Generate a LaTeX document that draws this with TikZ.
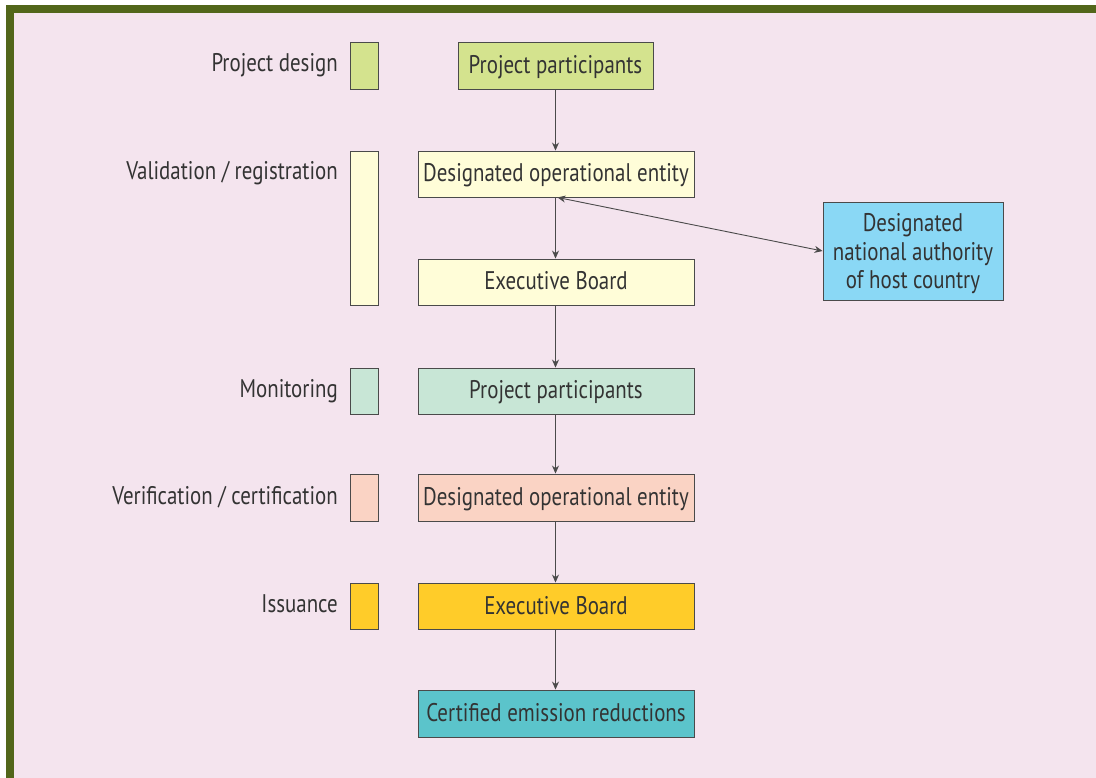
\documentclass[tikz,border=0pt]{standalone}
\usepackage{fontspec}
\setmainfont{PT Sans}[FakeStretch=0.82]
\usetikzlibrary{arrows.meta}
\definecolor{bgpink}{HTML}{F4E4EE}
\definecolor{bandgreen}{HTML}{52661A}
\definecolor{txt}{HTML}{333333}
\definecolor{edge}{HTML}{4A4A4A}
\definecolor{cdesign}{HTML}{D4E38E}
\definecolor{cvalid}{HTML}{FFFDD8}
\definecolor{cmonit}{HTML}{C8E6D6}
\definecolor{cverif}{HTML}{FAD3C4}
\definecolor{cissue}{HTML}{FFCC29}
\definecolor{ccer}{HTML}{5BC4CB}
\definecolor{cdna}{HTML}{8AD8F5}
\tikzset{
  box/.style={draw=edge, line width=0.9pt, text=txt, font=\fontsize{25.5}{28.5}\selectfont, inner sep=0pt, minimum height=46, align=center, text height=18.5pt, text depth=2.5pt},
  bar/.style={draw=edge, line width=0.9pt, minimum width=28, inner sep=0pt},
  lbl/.style={anchor=east, text=txt, font=\fontsize{25.5}{28.5}\selectfont, inner sep=0pt, text height=18.5pt, text depth=2.5pt},
  arr/.style={draw=edge, line width=0.9pt, -{Stealth[length=8pt,width=7pt]}},
  darr/.style={draw=edge, line width=0.9pt, {Stealth[length=8pt,width=7pt]}-{Stealth[length=8pt,width=7pt]}}
}
\begin{document}
\begin{tikzpicture}[x=1pt,y=-1pt]
\useasboundingbox (0,0) rectangle (1096,778);
\fill[white] (0,0) rectangle (1096,778);
\fill[bgpink] (6,5) rectangle (1096,778);
\fill[bandgreen] (6,5) rectangle (1096,13);
\fill[bandgreen] (6,5) rectangle (14,778);

% phase bars
\node[bar, fill=cdesign, minimum height=47] (b1) at (364,65.5) {};
\node[bar, fill=cvalid, minimum height=154] (b2) at (364,228) {};
\node[bar, fill=cmonit, minimum height=46] (b3) at (364,391) {};
\node[bar, fill=cverif, minimum height=47] (b4) at (364,497.5) {};
\node[bar, fill=cissue, minimum height=46] (b5) at (364,606) {};

% phase labels
\node[lbl] (l1) at (338,64) {Project design};
\node[lbl] (l2) at (338,172) {Validation / registration};
\node[lbl] (l3) at (338,389) {Monitoring};
\node[lbl] (l4) at (338,496) {Verification / certification};
\node[lbl] (l5) at (338,604) {Issuance};

% main boxes
\node[box, fill=cdesign, minimum width=195, minimum height=47] (pp1) at (555.5,65.5) {Project participants};
\node[box, fill=cvalid, minimum width=276] (doe1) at (556,174) {Designated operational entity};
\node[box, fill=cvalid, minimum width=276] (eb1) at (556,282) {Executive Board};
\node[box, fill=cmonit, minimum width=276] (pp2) at (556,391) {Project participants};
\node[box, fill=cverif, minimum width=276, minimum height=47] (doe2) at (556,497.5) {Designated operational entity};
\node[box, fill=cissue, minimum width=276] (eb2) at (556,606) {Executive Board};
\node[box, fill=ccer, minimum width=276, minimum height=47] (cer) at (556,713.5) {Certified emission reductions};
\node[box, fill=cdna, minimum width=180, minimum height=98, text height=, text depth=0pt] (dna) at (913,251) {Designated\\national authority\\of host country};

% connectors
\draw[arr] (pp1.south) -- (doe1.north -| pp1.south);
\draw[arr] (doe1.south -| pp1.south) -- (eb1.north -| pp1.south);
\draw[arr] (eb1.south -| pp1.south) -- (pp2.north -| pp1.south);
\draw[arr] (pp2.south -| pp1.south) -- (doe2.north -| pp1.south);
\draw[arr] (doe2.south -| pp1.south) -- (eb2.north -| pp1.south);
\draw[arr] (eb2.south -| pp1.south) -- (cer.north -| pp1.south);
\draw[darr] ([xshift=2pt]doe1.south -| pp1.south) -- (dna.west);
\end{tikzpicture}
\end{document}
